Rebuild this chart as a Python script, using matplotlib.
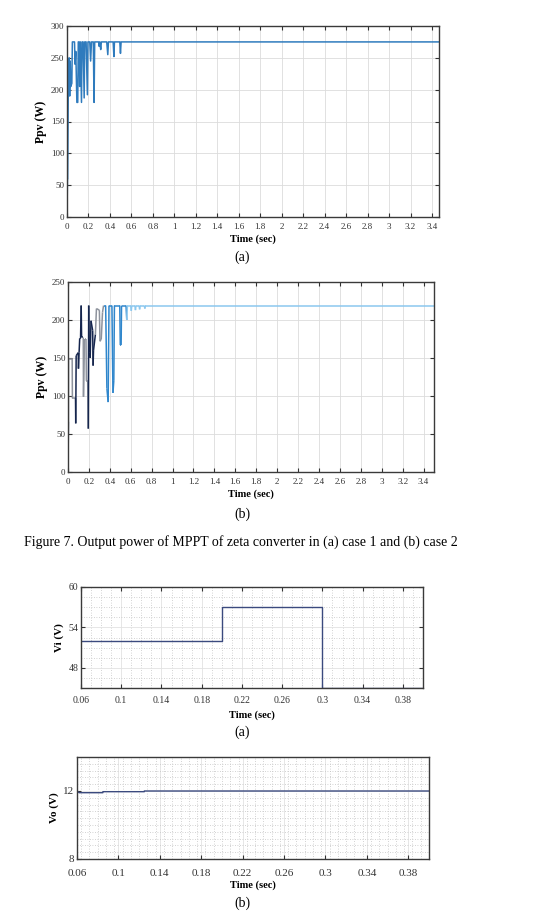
import numpy as np
import matplotlib
matplotlib.use("Agg")
import matplotlib.pyplot as plt
from matplotlib.collections import LineCollection
from matplotlib.ticker import MultipleLocator, FuncFormatter

plt.rcParams['font.family'] = ['Liberation Serif', 'DejaVu Serif']

# ---------------- data ----------------
# (a) case 1 PV power
t_a = [0, 0.004, 0.006, 0.012, 0.020, 0.025, 0.030, 0.035, 0.045, 0.050, 0.070, 0.075,
       0.082, 0.092, 0.100, 0.105, 0.112, 0.118, 0.124, 0.135, 0.140, 0.150, 0.160, 0.165,
       0.178, 0.190, 0.195, 0.212, 0.220, 0.228, 0.245, 0.252, 0.258, 0.295, 0.300, 0.306,
       0.314, 0.320, 0.370, 0.380, 0.386, 0.430, 0.437, 0.442, 0.492, 0.498, 0.504, 3.465]
p_a = [0, 60, 60, 200, 250, 190, 245, 205, 210, 275, 275, 240,
       260, 180, 180, 275, 275, 205, 275, 180, 275, 275, 187, 275,
       275, 192, 275, 275, 245, 275, 275, 180, 275, 275, 268, 275,
       263, 275, 275, 255, 275, 275, 252, 275, 275, 257, 275, 275]

# (b) case 2 PV power
t_b = [0, 0.004, 0.005, 0.040, 0.042, 0.072, 0.074, 0.078, 0.098, 0.100, 0.106, 0.112,
       0.120, 0.126, 0.130, 0.146, 0.148, 0.158, 0.172, 0.176, 0.188, 0.194, 0.198, 0.204,
       0.212, 0.220, 0.236, 0.240, 0.244, 0.262, 0.272, 0.300, 0.306, 0.318, 0.330, 0.340,
       0.360, 0.372, 0.384, 0.392, 0.420, 0.430, 0.438, 0.444, 0.495, 0.500, 0.508, 0.512,
       0.555, 0.562, 0.568, 0.600, 0.605, 0.610, 0.640, 0.645, 0.650, 0.680, 0.685, 0.690,
       0.730, 0.735, 0.740, 3.500]
p_b = [0, 66, 149, 149, 97, 97, 64, 153, 157, 136, 157, 176,
       176, 219, 177, 177, 99, 175, 175, 120, 120, 57, 219, 157,
       150, 199, 186, 140, 160, 181, 215, 213, 172, 175, 210, 219,
       219, 110, 92, 219, 219, 104, 120, 219, 219, 167, 167, 219,
       219, 200, 219, 219, 212, 219, 219, 213, 219, 219, 214, 219,
       219, 215, 219, 219]
# colour group of each segment (n: navy, g: grey, b: blue, l: light blue)
c_b = list("nggggnnnnnnnnnnggggggnnnnnnnnggggggbbbbbbbbbbbbbblllllllllllllll")

# Fig 8 (a) input voltage Vi
t_c = [0.06, 0.20, 0.20, 0.30, 0.30, 0.40]
v_c = [52, 52, 57, 57, 45, 45]

# Fig 8 (b) output voltage Vo
t_d = [0.06, 0.062, 0.085, 0.085, 0.125, 0.125, 0.40]
v_d = [12.0, 11.9, 11.9, 11.96, 11.96, 12.0, 12.0]

# ---------------- figure ----------------
W, H = 539, 924
fig = plt.figure(figsize=(W / 100, H / 100), dpi=100)


def rect(l, r, t, b):
    return [l / W, 1 - b / H, (r - l) / W, (b - t) / H]


def fmt(v, pos):
    s = ('%.2f' % v).rstrip('0').rstrip('.')
    return s


spine_c = '#3a3a3a'


def style(ax, fs, xpad=3):
    for s in ax.spines.values():
        s.set_color(spine_c)
        s.set_linewidth(1.0)
    ax.tick_params(which='both', direction='in', top=True, right=True,
                   labelsize=fs, colors='#333333', length=3, width=0.8, pad=2)
    ax.tick_params(axis='x', pad=xpad)
    ax.tick_params(which='minor', length=0)


# ---- (a)
ax1 = fig.add_axes(rect(67, 439, 26, 217))
ax1.plot(t_a, p_a, color='#2f7bbd', lw=1.1)
ax1.set_xlim(0, 3.465)
ax1.set_ylim(0, 300)
ax1.xaxis.set_major_locator(MultipleLocator(0.2))
ax1.yaxis.set_major_locator(MultipleLocator(50))
ax1.xaxis.set_major_formatter(FuncFormatter(fmt))
ax1.grid(True, color='#dcdcdc', lw=0.6)
ax1.set_axisbelow(True)
style(ax1, 6.5, xpad=4)
ax1.set_ylabel('Ppv (W)', fontsize=8.5, fontweight='bold', labelpad=3)
ax1.set_xlabel('Time (sec)', fontsize=7.5, fontweight='bold', labelpad=3)
fig.text(242 / W, 1 - 257 / H, '(a)', ha='center', va='center', fontsize=10)

# ---- (b)
ax2 = fig.add_axes(rect(68, 434, 282, 472))
cmap = {'n': '#15254d', 'g': '#8e939d', 'b': '#2f86cc', 'l': '#8cc8ef'}
pts = np.column_stack([t_b, p_b])
segs = np.stack([pts[:-1], pts[1:]], axis=1)
lc = LineCollection(segs, colors=[cmap[c] for c in c_b], linewidths=1.1)
ax2.add_collection(lc)
ax2.set_xlim(0, 3.5)
ax2.set_ylim(0, 250)
ax2.xaxis.set_major_locator(MultipleLocator(0.2))
ax2.yaxis.set_major_locator(MultipleLocator(50))
ax2.xaxis.set_major_formatter(FuncFormatter(fmt))
ax2.grid(True, color='#dcdcdc', lw=0.6)
ax2.set_axisbelow(True)
style(ax2, 6.5, xpad=4)
ax2.set_ylabel('Ppv (W)', fontsize=8.5, fontweight='bold', labelpad=3)
ax2.set_xlabel('Time (sec)', fontsize=7.5, fontweight='bold', labelpad=3)
fig.text(242 / W, 1 - 514 / H, '(b)', ha='center', va='center', fontsize=10)

fig.text(241 / W, 1 - 542 / H,
         'Figure 7. Output power of MPPT of zeta converter in (a) case 1 and (b) case 2',
         ha='center', va='center', fontsize=10)

# ---- Vi
ax3 = fig.add_axes(rect(81, 423, 587, 688))
ax3.plot(t_c, v_c, color='#3b4a7e', lw=1.0)
ax3.set_xlim(0.06, 0.40)
ax3.set_ylim(45, 60)
ax3.set_xticks([0.06, 0.10, 0.14, 0.18, 0.22, 0.26, 0.30, 0.34, 0.38])
ax3.set_yticks([48, 54, 60])
ax3.xaxis.set_minor_locator(MultipleLocator(0.01))
ax3.yaxis.set_minor_locator(MultipleLocator(1.5))
ax3.xaxis.set_major_formatter(FuncFormatter(fmt))
ax3.grid(True, which='major', color='#e2e2e2', lw=0.6)
ax3.grid(True, which='minor', color='#c4c4c4', lw=0.6, ls=(0, (1, 2)))
ax3.set_axisbelow(True)
style(ax3, 7, xpad=6)
ax3.set_ylabel('Vi (V)', fontsize=8, fontweight='bold', labelpad=3)
ax3.set_xlabel('Time (sec)', fontsize=7.5, fontweight='bold', labelpad=4)
fig.text(242 / W, 1 - 732 / H, '(a)', ha='center', va='center', fontsize=10)

# ---- Vo
ax4 = fig.add_axes(rect(77, 429, 757, 859))
ax4.plot(t_d, v_d, color='#3b4a7e', lw=1.0)
ax4.set_xlim(0.06, 0.40)
ax4.set_ylim(8, 14)
ax4.set_xticks([0.06, 0.10, 0.14, 0.18, 0.22, 0.26, 0.30, 0.34, 0.38])
ax4.set_yticks([8, 12])
ax4.xaxis.set_minor_locator(MultipleLocator(0.008))
ax4.yaxis.set_minor_locator(MultipleLocator(0.4))
ax4.xaxis.set_major_formatter(FuncFormatter(fmt))
ax4.grid(True, which='major', color='#e2e2e2', lw=0.6)
ax4.grid(True, which='minor', color='#c4c4c4', lw=0.6, ls=(0, (1, 2)))
ax4.set_axisbelow(True)
style(ax4, 8, xpad=7)
ax4.tick_params(top=False, right=False)
ax4.set_ylabel('Vo (V)', fontsize=8, fontweight='bold', labelpad=3)
ax4.set_xlabel('Time (sec)', fontsize=7.5, fontweight='bold', labelpad=2)
fig.text(242 / W, 1 - 903 / H, '(b)', ha='center', va='center', fontsize=10)

fig.savefig('out.png', dpi=100)
